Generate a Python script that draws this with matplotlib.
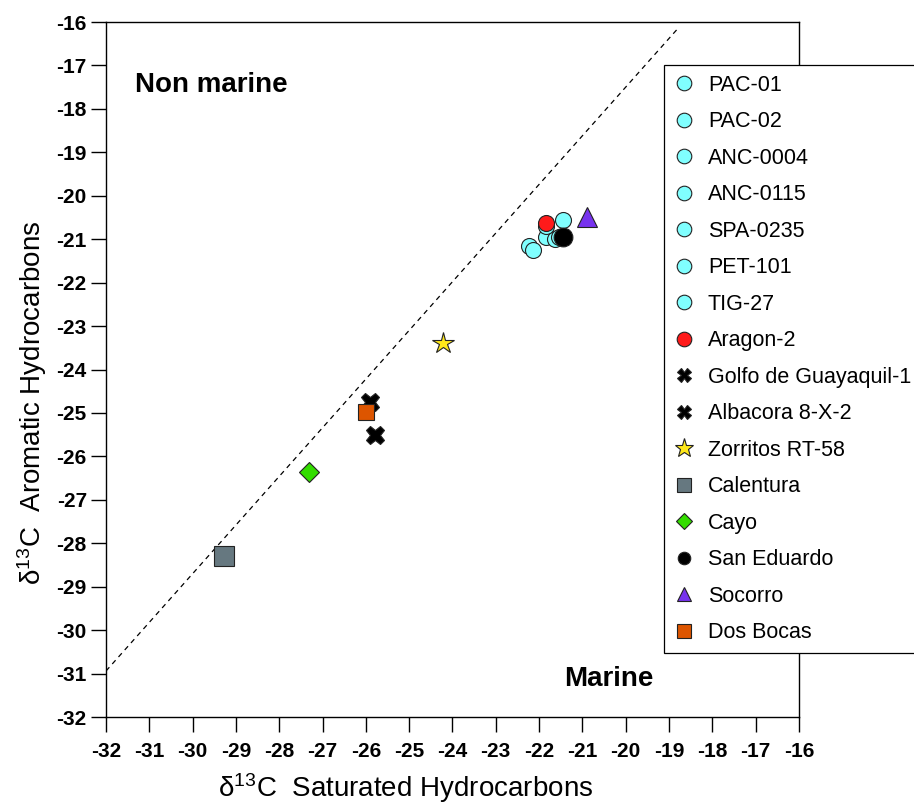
import matplotlib
matplotlib.use("Agg")
import matplotlib.pyplot as plt
import numpy as np

plt.rcParams['font.family'] = ['Liberation Sans', 'DejaVu Sans']
plt.rcParams['mathtext.fontset'] = 'custom'
plt.rcParams['mathtext.rm'] = 'Liberation Sans'
plt.rcParams['axes.unicode_minus'] = False

# samples: delta13C saturated (x) vs aromatic (y)
names = ['PAC-01', 'PAC-02', 'ANC-0004', 'ANC-0115', 'SPA-0235', 'PET-101', 'TIG-27',
         'Aragon-2', 'Golfo de Guayaquil-1', 'Albacora 8-X-2', 'Zorritos RT-58',
         'Calentura', 'Cayo', 'San Eduardo', 'Socorro', 'Dos Bocas']
sat = [-22.24, -22.15, -21.83, -21.62, -21.45, -21.85, -21.55,
       -21.85, -25.90, -25.78, -24.21,
       -29.27, -27.31, -21.45, -20.90, -25.99]
aro = [-21.15, -21.25, -20.95, -21.00, -20.55, -20.70, -20.95,
       -20.63, -24.75, -25.50, -23.40,
       -28.30, -26.37, -20.95, -20.50, -24.97]

# Sofer-type divide line
line_x = [-32.0, -18.8]
line_slope = 1.12
line_icpt = 4.9

cyan = dict(marker='o', color='#80ffff', ms=11.5, lms=10.5)
styles = [cyan] * 7 + [
    dict(marker='o', color='#ff1a1a', ms=11.5, lms=10.5),
    dict(marker='X', color='black', ms=13, lms=10),
    dict(marker='X', color='black', ms=13, lms=10),
    dict(marker='*', color='#ffe81a', ms=16, lms=14),
    dict(marker='s', color='#667880', ms=14.5, lms=9.5),
    dict(marker='D', color='#22aa22', ms=10, lms=8.5),
    dict(marker='o', color='black', ms=13.5, lms=9),
    dict(marker='^', color='#7733ee', ms=14.5, lms=9.5),
    dict(marker='s', color='#dd5500', ms=11, lms=9.5),
]
plot_colors = {'Cayo': '#33dd00'}

fig = plt.figure(figsize=(9.14, 8.07), dpi=100)
ax = fig.add_axes([0.116, 0.1115, 0.758, 0.8612])

lx = np.array(line_x)
ax.plot(lx, line_slope * lx + line_icpt, color='black', lw=0.9,
        linestyle=(0, (4, 3.5)), zorder=1)

for n, x, y, st in zip(names, sat, aro, styles):
    ax.plot([x], [y], linestyle='none', marker=st['marker'], ms=st['ms'],
            mfc=plot_colors.get(n, st['color']), mec='#222222', mew=0.8,
            label=n, zorder=3)

ax.set_xlim(-32, -16)
ax.set_ylim(-32, -16)
ax.set_xticks(range(-32, -15))
ax.set_yticks(range(-32, -15))
ax.tick_params(direction='out', length=10.8, width=1, labelsize=15)
ax.tick_params(axis='x', pad=7)
ax.tick_params(axis='y', pad=3)
for lab in ax.get_xticklabels() + ax.get_yticklabels():
    lab.set_fontweight('bold')
for sp in ax.spines.values():
    sp.set_linewidth(1.0)

ax.text(-31.33, -17.45, 'Non marine', fontsize=20, fontweight='bold',
        ha='left', va='center')
ax.text(-21.43, -31.13, 'Marine', fontsize=20, fontweight='bold',
        ha='left', va='center')

ax.set_xlabel(r'$\mathregular{\delta^{13}C}$  Saturated Hydrocarbons', fontsize=20)
ax.xaxis.set_label_coords(0.432, -0.078)
ax.set_ylabel(r'$\mathregular{\delta^{13}C}$  Aromatic Hydrocarbons', fontsize=20)
ax.yaxis.set_label_coords(-0.107, 0.452)
ax.yaxis.label.set_va('center')

leg = ax.legend(loc='upper left', bbox_to_anchor=(0.805, 0.938), borderaxespad=0,
                fontsize=15.5, labelspacing=0.72, borderpad=0.45, handlelength=1.0,
                handletextpad=0.6, fancybox=False,
                framealpha=1, edgecolor='black')
leg.get_frame().set_linewidth(0.9)
for h, st in zip(leg.legend_handles, styles):
    h.set_markersize(st['lms'])

fig.savefig('out.png', dpi=100)
